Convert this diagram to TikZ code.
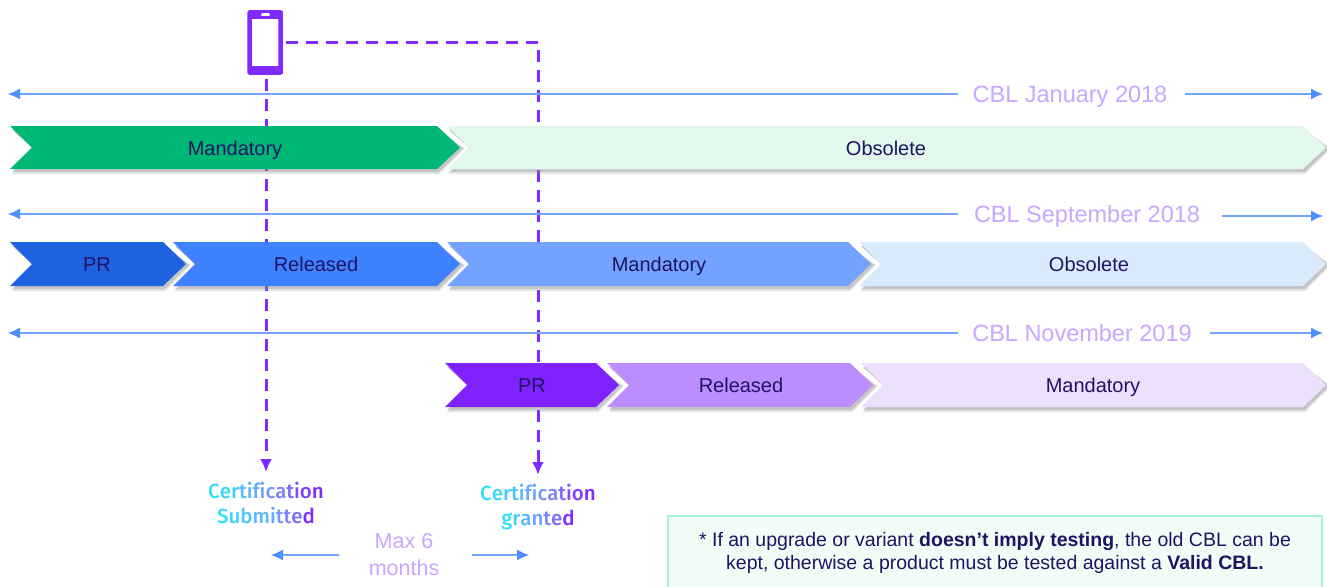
\documentclass[tikz,border=0pt]{standalone}
\usepackage{fontspec}
\setmainfont{Liberation Sans}
\newfontfamily\ubu{Fira Sans Medium}
\usetikzlibrary{arrows.meta}
\definecolor{navy}{HTML}{1E1464}
\definecolor{lilac}{HTML}{C9A6FF}
\definecolor{tlblue}{HTML}{4F8FFF}
\definecolor{dashp}{HTML}{7F2BFF}
\definecolor{shad}{HTML}{8C8C8C}
\definecolor{ca}{HTML}{E2F8EC}
\definecolor{cb}{HTML}{00B876}
\definecolor{cc}{HTML}{D9EAFD}
\definecolor{cd}{HTML}{73A3FF}
\definecolor{ce}{HTML}{3F82FF}
\definecolor{cf}{HTML}{1F62E0}
\definecolor{cg}{HTML}{EDE0FD}
\definecolor{ch}{HTML}{BB8DFF}
\definecolor{ci}{HTML}{7F22FF}
\definecolor{noteb}{HTML}{A5F5D5}
\definecolor{notef}{HTML}{F2FDF8}
\newcommand{\shadlayer}[7]{%
 \fill[shad,opacity=#7] (#1+2,#3+4) -- (#2-21,#3+4) -- (#2+#6,{(#3+#4)/2+1}) -- (#2-21,#4+#6) -- (#1+2,#4+#6) -- (#1+#5+2,{(#3+#4)/2+2}) -- cycle;}
\newcommand{\chev}[6]{% x0,x1,ytop,ybot,colour,notch
 \shadlayer{#1}{#2}{#3}{#4}{#6}{5}{.22}
 \shadlayer{#1}{#2}{#3}{#4}{#6}{3}{.35}
 \fill[#5] (#1,#3) -- (#2-23,#3) -- (#2,{(#3+#4)/2}) -- (#2-23,#4) -- (#1,#4) -- (#1+#6,{(#3+#4)/2}) -- cycle;}
\tikzset{
 lbl/.style={font=\fontsize{20}{24}\selectfont,text=navy,inner sep=0pt,anchor=base},
 cbl/.style={font=\fontsize{23.5}{28}\selectfont,text=lilac,inner sep=1pt,anchor=base},
 tlr/.style={draw=tlblue!80,line width=1.1pt,-{Latex[length=12pt,width=11pt,color=tlblue]}},
 dsh/.style={draw=dashp,line width=3pt,dash pattern=on 12pt off 8pt},
 cert/.style={font=\ubu\fontsize{20.5}{24}\selectfont,align=center,inner sep=0pt},
}
\newcommand{\gc}[2]{\textcolor[HTML]{#1}{#2}}
\begin{document}
\begin{tikzpicture}[x=1pt,y=-1pt]
\useasboundingbox (0,0) rectangle (1327,586);
\fill[white] (0,0) rectangle (1327,586);
% phone
\node[draw=dashp,fill=white,line width=4.5pt,rounded corners=.6pt,minimum width=31pt,minimum height=60pt,inner sep=0pt] (phone) at (265,42.5) {};
\fill[dashp] (248,11) rectangle (283,19);
\fill[dashp] (248,66) rectangle (283,74);
\fill[white,rounded corners=1.2pt] (261,13.2) rectangle (270,16);
\coordinate (endA) at (266,472);
\coordinate (endB) at (538,475);
% dashed connectors (beneath the bars)
\draw[dsh,-{Latex[length=13pt,width=12pt]}] ([xshift=1pt,yshift=-4pt]phone.south) -- (endA);
\draw[dsh,-{Latex[length=13pt,width=12pt]}] ([xshift=3pt]phone.east) -| (endB);
% timelines
\node[cbl] (c1) at (1070,102) {CBL January 2018};
\node[cbl] (c2) at (1087,222) {CBL September 2018};
\node[cbl] (c3) at (1082,341) {CBL November 2019};
\coordinate (l1) at (8,94); \coordinate (r1) at (1323,94);
\coordinate (l2) at (8,214); \coordinate (r2) at (1323,216);
\coordinate (l3) at (8,333); \coordinate (r3) at (1323,333);
\coordinate (m1) at (958,94); \coordinate (m2) at (958,214); \coordinate (m3) at (958,333);
\coordinate (n1) at (1185,94); \coordinate (n2) at (1222,216); \coordinate (n3) at (1210,333);
\draw[tlr] (m1) -- (l1);
\draw[tlr] (n1) -- (r1);
\draw[tlr] (m2) -- (l2);
\draw[tlr] (n2) -- (r2);
\draw[tlr] (m3) -- (l3);
\draw[tlr] (n3) -- (r3);
% row 1
\chev{447}{1326}{126}{169}{ca}{22}
\chev{10}{460}{126}{169}{cb}{22}
% row 2
\chev{859}{1326}{242}{286}{cc}{22}
\chev{447}{871}{242}{286}{cd}{22}
\chev{173}{460}{242}{286}{ce}{22}
\chev{10}{186}{242}{286}{cf}{22}
% row 3
\chev{861}{1326}{363}{407}{cg}{22}
\chev{607}{873}{363}{407}{ch}{22}
\chev{445}{619}{363}{407}{ci}{22}
% labels
\node[lbl] (a1) at (235,155) {Mandatory};
\node[lbl] (a2) at (886,155) {Obsolete};
\node[lbl] (b1) at (97,271) {PR};
\node[lbl] (b2) at (316,271) {Released};
\node[lbl] (b3) at (659,271) {Mandatory};
\node[lbl] (b4) at (1089,271) {Obsolete};
\node[lbl] (d1) at (532,392) {PR};
\node[lbl] (d2) at (741,392) {Released};
\node[lbl] (d3) at (1093,392) {Mandatory};
% certification
\node[cert] (cs) at (266,503) {\gc{2FE0F8}{C}\gc{3AD6FA}{e}\gc{44CBFA}{r}\gc{4FC0FB}{t}\gc{5AB5FB}{i}\gc{65AAFC}{f}\gc{709FFC}{i}\gc{7B94FC}{c}\gc{7B80FD}{a}\gc{7B6CFD}{t}\gc{7F50FE}{i}\gc{7F40FE}{o}\gc{7F2BFF}{n}\\[1pt]\gc{2FE0F8}{S}\gc{3DD4FA}{u}\gc{4CC6FB}{b}\gc{5AB8FB}{m}\gc{68A9FC}{i}\gc{7598FC}{t}\gc{7B84FD}{t}\gc{7B6CFD}{e}\gc{7F2BFF}{d}};
\node[cert] (cgr) at (538,507) {\gc{2FE0F8}{C}\gc{3AD6FA}{e}\gc{44CBFA}{r}\gc{4FC0FB}{t}\gc{5AB5FB}{i}\gc{65AAFC}{f}\gc{709FFC}{i}\gc{7B94FC}{c}\gc{7B80FD}{a}\gc{7B6CFD}{t}\gc{7F50FE}{i}\gc{7F40FE}{o}\gc{7F2BFF}{n}\\[1pt]\gc{2FE0F8}{g}\gc{44CBFA}{r}\gc{5AB5FB}{a}\gc{709FFC}{n}\gc{7B84FD}{t}\gc{7B6CFD}{e}\gc{7F2BFF}{d}};
% max 6 months
\node[font=\fontsize{21.5}{27}\selectfont,text=lilac,align=center,inner sep=0pt] (mx) at (404,555) {Max 6\\months};
\coordinate (ml) at (271,555); \coordinate (mr) at (529,555);
\coordinate (mla) at (339,555); \coordinate (mra) at (472,555);
\draw[tlr] (mla) -- (ml);
\draw[tlr] (mra) -- (mr);
% note
\fill[notef] (668,516) rectangle (1322,590);
\draw[noteb,line width=1.5pt] (668,590) -- (668,516) -- (1322,516) -- (1322,590);
\node[inner sep=0pt,font=\fontsize{19.5}{23.5}\selectfont,text=navy,align=center] (notet) at (995,553) {* If an upgrade or variant \textbf{doesn’t imply testing}, the old CBL can be\\kept, otherwise a product must be tested against a \textbf{Valid CBL.}};
\end{tikzpicture}
\end{document}
